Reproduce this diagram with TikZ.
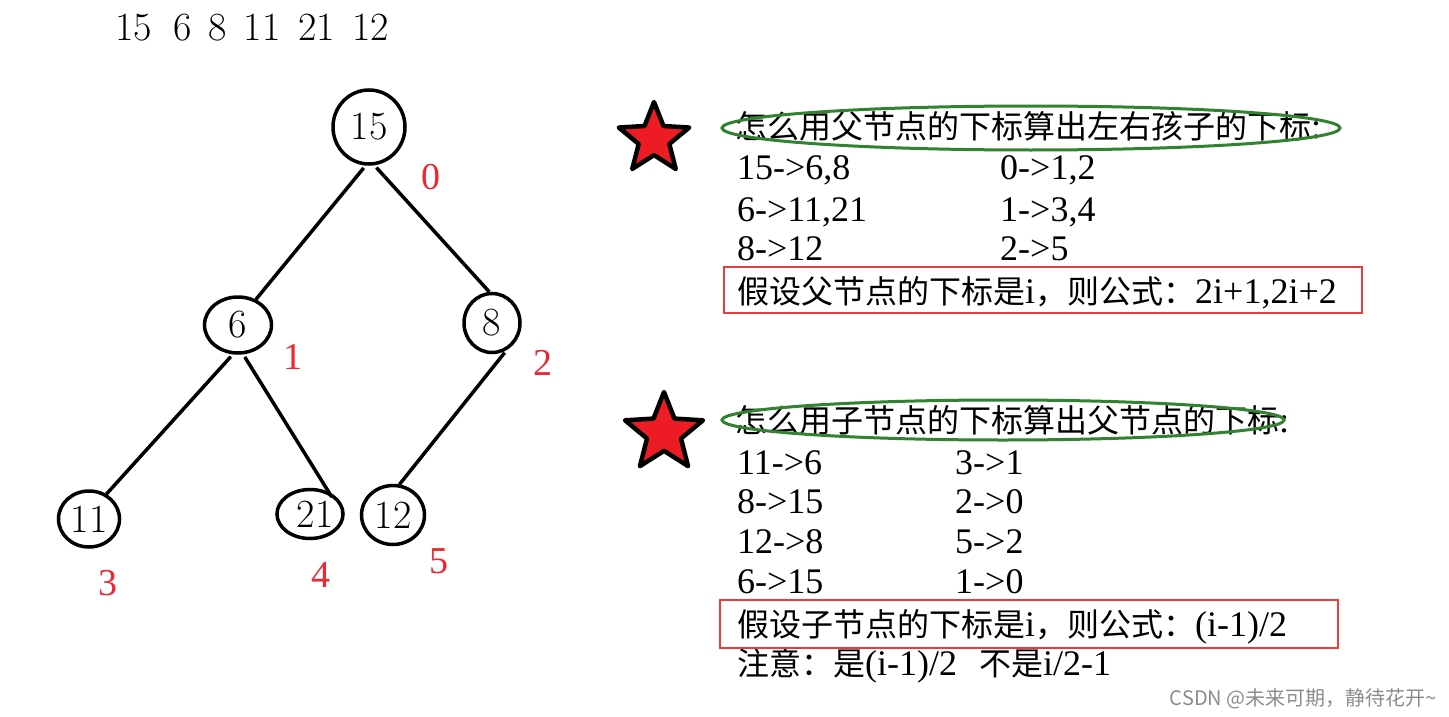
\documentclass[tikz,border=0pt]{standalone}
\usepackage{fontspec}
\usetikzlibrary{shapes.geometric}
\newfontfamily\cjk{Noto Sans CJK SC}
\newfontfamily\tms{Liberation Serif}
\newcommand{\cjkf}{\cjk\fontsize{32}{36}\selectfont}
\definecolor{starred}{RGB}{237,28,36}
\definecolor{lblred}{RGB}{235,40,50}
\definecolor{boxred}{RGB}{235,60,60}
\definecolor{ovalgreen}{RGB}{50,130,50}
\definecolor{wmgray}{RGB}{140,140,140}
\begin{document}
\begin{tikzpicture}[x=1pt,y=-1pt,
  treenode/.style={draw, ellipse, line width=3.5pt, inner sep=0pt, font=\fontsize{40}{46}\selectfont},
  edge/.style={line width=3.5pt, shorten <=3pt},
  idx/.style={text=lblred, inner sep=0pt, font=\tms\fontsize{38}{44}\selectfont},
  rtext/.style={anchor=base west, inner sep=0pt, font=\tms\fontsize{36}{40}\selectfont},
  oval/.style={draw=ovalgreen, line width=3pt},
  redbox/.style={draw=boxred, line width=2.5pt},
  redstar/.style={star, star points=5, star point ratio=2.3, draw=black, fill=starred, line width=4.5pt, line join=round, inner sep=0pt}
]
\useasboundingbox[fill=white] (0,0) rectangle (1449,717);

% sequence
\node[anchor=base west, inner sep=0pt, font=\fontsize{40}{46}\selectfont] (seq) at (115,41)
  {15\hspace{22pt}6\hspace{16pt}8\hspace{17pt}11\hspace{18pt}21\hspace{17pt}12};

% tree
\node[treenode, minimum width=72pt, minimum height=74pt] (n15) at (369,127) {15};
\node[treenode, minimum width=67pt, minimum height=56pt] (n6) at (238,325) {6};
\node[treenode, minimum width=56pt, minimum height=59pt] (n8) at (492,323) {8};
\node[treenode, minimum width=61pt, minimum height=56pt] (n11) at (89,519) {11};
\node[treenode, minimum width=66pt, minimum height=49pt] (n21) at (310,514) {\hspace{10pt}21};
\node[treenode, minimum width=63pt, minimum height=59pt] (n12) at (393,515) {12};

\draw[edge] (n15.-95) -- (n6.55);
\draw[edge] (n15.-82) -- (n8.95);
\draw[edge] (n6.-100) -- (n11.55);
\draw[edge, shorten >=-6pt] (n6.-80) -- (n21.50);
\draw[edge] (n8.-62) -- (n12.78);

\node[idx] (i0) at (431,177) {0};
\node[idx] (i1) at (293,357) {1};
\node[idx] (i2) at (543,363) {2};
\node[idx] (i3) at (108,583) {3};
\node[idx] (i4) at (321,575) {4};
\node[idx] (i5) at (439,561) {5};

% stars
\node[redstar, minimum size=74pt] (s1) at (654,139) {};
\node[redstar, minimum size=82pt] (s2) at (664,433) {};

% block 1
\node[rtext] (t1) at (735,139) {{\cjkf 怎么用父节点的下标算出左右孩子的下标}:};
\node[rtext] (a1) at (737,179) {15->6,8};
\node[rtext] (b1) at (1000,179) {0->1,2};
\node[rtext] (a2) at (737,221) {6->11,21};
\node[rtext] (b2) at (1000,221) {1->3,4};
\node[rtext] (a3) at (737,260) {8->12};
\node[rtext] (b3) at (1000,260) {2->5};
\node[rtext] (f1) at (737,303) {{\cjkf 假设父节点的下标是}i{\cjkf ，则公式：}2i+1,2i+2};
\draw[oval] (1031,128) ellipse [x radius=309, y radius=22];
\draw[redbox] (724,267) rectangle (1362,313);

% block 2
\node[rtext] (t2) at (735,432) {{\cjkf 怎么用子节点的下标算出父节点的下标}:};
\node[rtext] (c1) at (737,474) {11->6};
\node[rtext] (d1) at (955,474) {3->1};
\node[rtext] (c2) at (737,513) {8->15};
\node[rtext] (d2) at (955,513) {2->0};
\node[rtext] (c3) at (737,553) {12->8};
\node[rtext] (d3) at (955,553) {5->2};
\node[rtext] (c4) at (737,593) {6->15};
\node[rtext] (d4) at (955,593) {1->0};
\node[rtext] (f2) at (737,636) {{\cjkf 假设子节点的下标是}i{\cjkf ，则公式：}(i-1)/2};
\node[rtext] (note) at (737,675) {{\cjkf 注意：是}(i-1)/2\hspace{22pt}{\cjkf 不是}i/2-1};
\draw[oval] (1003,420) ellipse [x radius=281, y radius=20];
\draw[redbox] (720,600) rectangle (1338,648);

% watermark
\node[anchor=base east, inner sep=0pt, text=wmgray, font=\cjk\fontsize{20}{24}\selectfont] (wm) at (1437,705) {CSDN @未来可期，静待花开\textasciitilde};
\end{tikzpicture}
\end{document}
